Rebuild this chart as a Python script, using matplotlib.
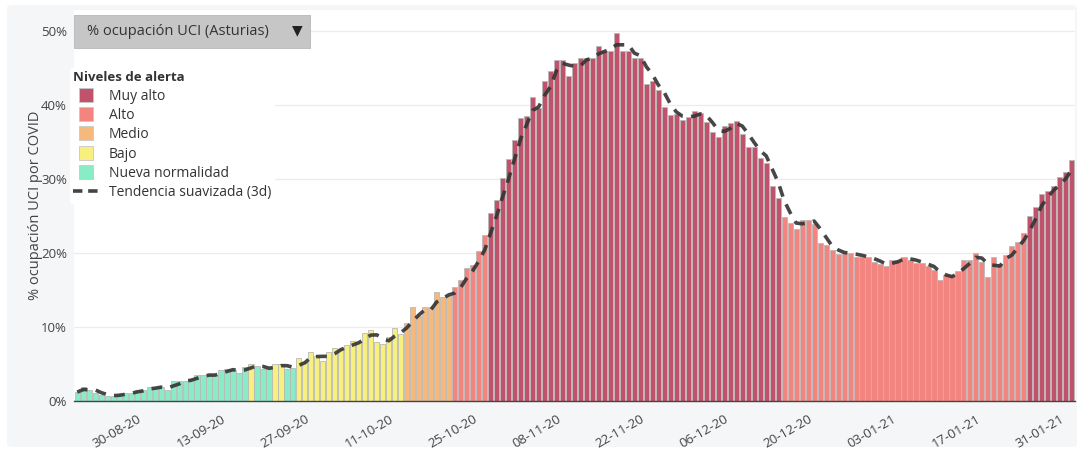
import numpy as np
import pandas as pd
import matplotlib
matplotlib.use("Agg")
import matplotlib.pyplot as plt
from matplotlib.lines import Line2D
from matplotlib.patches import FancyBboxPatch

# daily ICU occupancy (%), 20-08-2020 .. 02-02-2021
dates = pd.date_range("2020-08-20", "2021-02-02", freq="D")
ocupacion = [
    1.2, 1.9, 1.5, 1.1, 0.8, 0.7, 0.7, 0.9, 1.1, 1.1,
    1.5, 1.5, 1.9, 1.8, 1.9, 1.5, 2.7, 2.7, 2.7, 3.0,
    3.5, 3.5, 3.5, 3.5, 4.2, 4.3, 4.2, 3.8, 4.6, 5.0,
    4.7, 4.3, 4.3, 5.0, 5.0, 4.3, 4.4, 5.8, 5.3, 6.6,
    6.1, 5.4, 6.6, 7.2, 7.0, 7.6, 8.1, 7.9, 9.2, 9.6,
    8.0, 7.7, 8.7, 9.9, 9.1, 10.6, 12.7, 11.5, 12.7, 12.7,
    14.7, 14.1, 14.2, 15.4, 16.4, 17.9, 18.4, 20.3, 22.4, 25.4,
    27.2, 30.1, 32.7, 35.2, 38.2, 38.5, 41.0, 39.6, 43.2, 44.6,
    46.1, 46.1, 43.9, 45.6, 46.3, 46.3, 46.3, 48.0, 47.3, 47.3,
    49.7, 47.3, 47.3, 46.3, 46.3, 42.8, 43.2, 42.0, 39.7, 38.6,
    38.8, 38.0, 38.3, 39.1, 38.9, 37.7, 36.3, 35.7, 37.2, 37.5,
    37.8, 36.1, 34.3, 34.3, 32.8, 32.2, 29.0, 27.4, 24.8, 24.1,
    23.2, 24.5, 24.5, 23.9, 21.4, 21.0, 20.4, 19.8, 20.0, 20.0,
    19.5, 19.5, 19.4, 18.8, 18.5, 18.2, 19.1, 19.1, 19.4, 19.1,
    18.6, 18.6, 18.2, 17.7, 16.4, 17.0, 17.0, 17.6, 19.1, 19.1,
    20.0, 18.8, 16.7, 19.5, 18.5, 19.7, 20.9, 21.5, 22.7, 25.0,
    26.2, 28.0, 28.4, 29.0, 30.2, 30.9, 32.6,
]
# smoothed trend (3 days)
tendencia = [
    1.20, 1.55, 1.53, 1.50, 1.13, 0.87, 0.73, 0.77, 0.90, 1.03,
    1.23, 1.37, 1.63, 1.73, 1.87, 1.73, 2.03, 2.30, 2.70, 2.80,
    3.07, 3.33, 3.50, 3.50, 3.73, 4.00, 4.23, 4.10, 4.20, 4.47,
    4.77, 4.67, 4.43, 4.53, 4.77, 4.77, 4.57, 4.83, 5.17, 5.90,
    6.00, 6.03, 6.03, 6.40, 6.93, 7.27, 7.57, 7.87, 8.40, 8.90,
    8.93, 8.43, 8.13, 8.77, 9.23, 9.87, 10.80, 11.60, 12.30, 12.30,
    13.37, 13.83, 14.33, 14.57, 15.33, 16.57, 17.57, 18.87, 20.37, 22.70,
    25.00, 27.57, 30.00, 32.67, 35.37, 37.30, 39.23, 39.70, 41.27, 42.47,
    44.63, 45.60, 45.37, 45.20, 45.27, 46.07, 46.30, 46.87, 47.20, 47.53,
    48.10, 48.10, 48.10, 46.97, 46.63, 45.13, 44.10, 42.67, 41.63, 40.10,
    39.03, 38.47, 38.37, 38.47, 38.77, 38.57, 37.63, 36.57, 36.40, 36.80,
    37.50, 37.13, 36.07, 34.90, 33.80, 33.10, 31.33, 29.53, 27.07, 25.43,
    24.03, 23.93, 24.07, 24.30, 23.27, 22.10, 20.93, 20.40, 20.07, 19.93,
    19.83, 19.67, 19.47, 19.23, 18.90, 18.50, 18.60, 18.80, 19.20, 19.20,
    19.03, 18.77, 18.47, 18.17, 17.43, 17.03, 16.80, 17.20, 17.90, 18.60,
    19.40, 19.30, 18.50, 18.33, 18.23, 19.23, 19.70, 20.70, 21.70, 23.07,
    24.63, 26.40, 27.53, 28.47, 29.20, 30.03, 31.23,
]
# alert level of each day, as runs (level, number of days)
nivel_tramos = [
    ("Nueva normalidad", 29), ("Bajo", 1), ("Nueva normalidad", 3),
    ("Bajo", 2), ("Nueva normalidad", 2), ("Bajo", 18), ("Medio", 8),
    ("Alto", 6), ("Muy alto", 49), ("Alto", 41), ("Muy alto", 8),
]
niveles = ["Muy alto", "Alto", "Medio", "Bajo", "Nueva normalidad"]
colores_nivel = {
    "Muy alto": "#c1526c",
    "Alto": "#f38580",
    "Medio": "#f7b87c",
    "Bajo": "#f7ef7e",
    "Nueva normalidad": "#88ecc6",
}
tick_labels = ["30-08-20", "13-09-20", "27-09-20", "11-10-20", "25-10-20",
               "08-11-20", "22-11-20", "06-12-20", "20-12-20", "03-01-21",
               "17-01-21", "31-01-21"]

nivel_dia = [n for n, k in nivel_tramos for _ in range(k)]
bar_colors = [colores_nivel[n] for n in nivel_dia]

FONT = ["Open Sans", "DejaVu Sans"]
plt.rcParams["font.family"] = FONT

W, H = 1081, 450
fig = plt.figure(figsize=(W / 100, H / 100), dpi=100)
fig.patch.set_facecolor("white")

# grey card behind the chart
card = FancyBboxPatch((7 / W, 3 / H), 1070 / W, 442 / H,
                      boxstyle="round,pad=0,rounding_size=0.006",
                      transform=fig.transFigure, facecolor="#f5f6f8",
                      edgecolor="none", zorder=-10)
fig.add_artist(card)

ax = fig.add_axes([74 / W, (H - 401) / H, 1001 / W, 391 / H])
ax.set_facecolor("white")

ax.bar(dates, ocupacion, width=0.86, color=bar_colors,
       edgecolor="#b9b9b9", linewidth=0.6, zorder=2)
ax.plot(dates, tendencia, color="#333333", alpha=0.9, lw=2.6,
        dashes=(3.0, 2.3), zorder=3)

ax.set_xlim(dates[0] - pd.Timedelta(hours=13), dates[-1] + pd.Timedelta(hours=13))
ax.set_ylim(0, 52.8)
ax.set_yticks([0, 10, 20, 30, 40, 50])
ax.set_yticklabels(["0%", "10%", "20%", "30%", "40%", "50%"])
ax.grid(axis="y", color="#ececec", lw=0.9, zorder=0)
ax.set_axisbelow(True)

ticks = pd.to_datetime(tick_labels, format="%d-%m-%y")
ax.set_xticks(ticks)
ax.set_xticklabels(tick_labels)
for lab in ax.get_xticklabels():
    lab.set_rotation(30)
    lab.set_ha("right")
    lab.set_rotation_mode("anchor")
ax.tick_params(axis="x", length=0, pad=8, labelsize=9.5, labelcolor="#444444")
ax.tick_params(axis="y", length=0, pad=5, labelsize=9.5, labelcolor="#444444")

for s in ["top", "right", "left"]:
    ax.spines[s].set_visible(False)
ax.spines["bottom"].set_color("#444444")
ax.spines["bottom"].set_linewidth(1.0)

ax.set_ylabel("% ocupación UCI por COVID", fontsize=10.5, color="#444444")
ax.yaxis.set_label_coords(-0.031, 0.5)

# legend
handles = [Line2D([], [], marker="s", markersize=9.5, ls="none",
                  markerfacecolor=colores_nivel[n], markeredgecolor="#c8c8c8",
                  markeredgewidth=0.6) for n in niveles]
handles.append(Line2D([], [], color="#444444", lw=2.6, dashes=(2.6, 1.6)))
labels = niveles + ["Tendencia suavizada (3d)"]
leg = ax.legend(handles, labels, title="Niveles de alerta", loc="upper left",
                bbox_to_anchor=(-0.004, 0.852), frameon=True, fontsize=10,
                title_fontproperties={"weight": "bold", "size": 9.5},
                alignment="left", labelspacing=0.31, handlelength=1.75,
                handletextpad=0.8, borderpad=0.25, borderaxespad=0.0)
leg.get_frame().set_facecolor("white")
leg.get_frame().set_edgecolor("none")
leg.get_frame().set_alpha(1.0)
for t in leg.get_texts():
    t.set_color("#333333")
leg.get_title().set_color("#333333")

# dropdown selector
box = FancyBboxPatch((74 / W, (H - 48) / H), 236 / W, 33 / H,
                     boxstyle="square,pad=0", transform=fig.transFigure,
                     facecolor="#c6c6c6", edgecolor="#b8b8b8", lw=0.6, zorder=5)
fig.add_artist(box)
fig.text(87 / W, (H - 31.5) / H, "% ocupación UCI (Asturias)", fontsize=10.5,
         color="#333333", va="center", ha="left", zorder=6)
fig.text(297 / W, (H - 30) / H, "▼", fontsize=10, color="#222222",
         va="center", ha="center", zorder=6, family=["DejaVu Sans"])

fig.savefig("out.png", dpi=100)
